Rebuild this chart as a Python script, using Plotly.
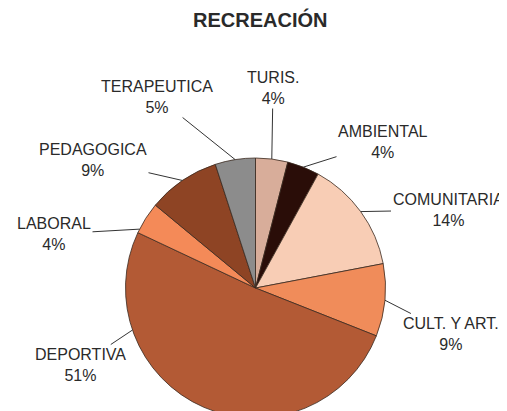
import math
import plotly.graph_objects as go

# ---- data ----
categories = ["TURIS.", "AMBIENTAL", "COMUNITARIA", "CULT. Y ART.", "DEPORTIVA",
              "LABORAL", "PEDAGOGICA", "TERAPEUTICA"]
values = [4, 4, 14, 9, 51, 4, 9, 5]
title_text = "RECREACIÓN"

# ---- styling ----
colors = ["#D8AD9A", "#2A0D08", "#F8CDB5", "#F08C5A", "#B35A35",
          "#F48A58", "#8E4424", "#8C8C8C"]
# where along each slice the leader line touches the rim (fraction of slice)
anchor_frac = [0.5, 0.5, 0.5, 0.5, 0.76, 0.12, 0.5, 0.5]
# label block centres (pixels from top-left of the picture)
label_pos = [(273, 88), (383, 142), (448, 210), (451, 334),
             (80, 365), (54, 234), (93, 160), (157, 97)]

W, H = 507, 411
OFF = 8  # page body margin: figure is drawn 8px in from the picture's corner
cx, cy, r = 255.5 - OFF, 288.0 - OFF, 130.0

fig = go.Figure()
fig.add_trace(go.Pie(
    labels=categories, values=values, sort=False, direction="clockwise",
    rotation=0, textinfo="none", hoverinfo="label+percent",
    marker=dict(colors=colors, line=dict(color="#3a2a20", width=0.8)),
    domain=dict(x=[(cx - r) / W, (cx + r) / W], y=[(H - cy - r) / H, (H - cy + r) / H]),
    showlegend=False,
))

total = sum(values)
cum = 0.0
annotations = []
for i, v in enumerate(values):
    ang = (cum + v * anchor_frac[i]) / total * 2 * math.pi
    cum += v
    tx = cx + r * math.sin(ang)
    ty = cy - r * math.cos(ang)
    pct = round(v / total * 100)
    lx, ly = label_pos[i][0] - OFF, label_pos[i][1] - OFF
    annotations.append(dict(
        x=tx / W, y=(H - ty) / H, xref="paper", yref="paper",
        text=f"{categories[i]}<br>{pct}%", showarrow=True,
        ax=lx - tx, ay=ly - ty, arrowhead=0, arrowwidth=1, arrowcolor="#333333",
        font=dict(family="Liberation Sans, Arial", size=16, color="#2a2a2a"),
        align="center",
    ))

annotations.append(dict(
    x=(260 - OFF) / W, y=1 - (20 - OFF) / H, xref="paper", yref="paper",
    xanchor="center", yanchor="middle", showarrow=False,
    text=f"<b>{title_text}</b>",
    font=dict(family="Liberation Sans, Arial", size=20, color="#2a2a2a"),
))

fig.update_layout(
    width=W, height=H, margin=dict(l=0, r=0, t=0, b=0),
    paper_bgcolor="white", plot_bgcolor="white",
    annotations=annotations,
)
fig.write_html("out.html")
